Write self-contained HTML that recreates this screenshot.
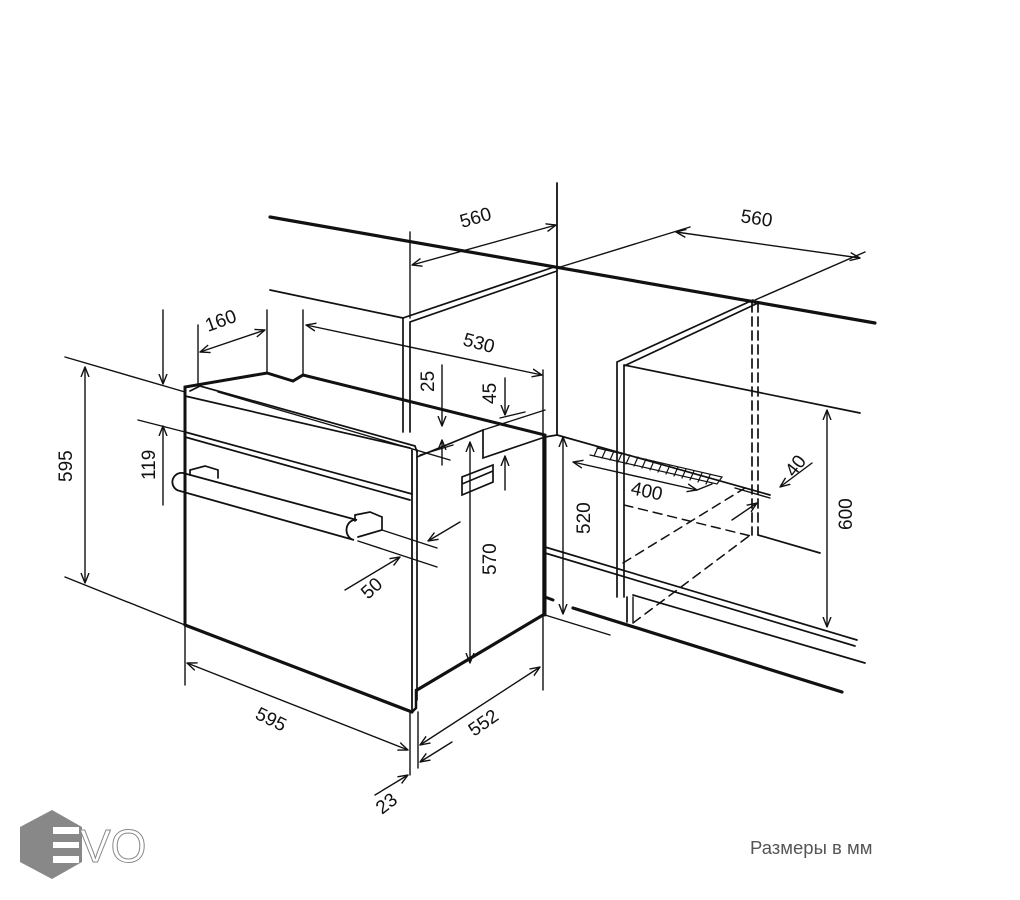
<!DOCTYPE html>
<html><head><meta charset="utf-8"><style>
html,body{margin:0;padding:0;background:#fff;}
svg{display:block;}
text{font-family:"Liberation Sans","DejaVu Sans",sans-serif;font-size:19px;fill:#111;}
</style></head><body>
<svg width="1020" height="900" viewBox="0 0 1020 900" xmlns="http://www.w3.org/2000/svg">
<defs>
<marker id="a" viewBox="0 0 10 10" refX="10" refY="5" markerWidth="10" markerHeight="10" orient="auto-start-reverse" markerUnits="userSpaceOnUse">
<path d="M0,1 L10,5 L0,9" fill="none" stroke="#111" stroke-width="1.4"/></marker>
</defs>
<g stroke="#111" fill="none" stroke-linecap="round">
<line x1="270" y1="217" x2="875" y2="323" stroke-width="3.2"/>
<line x1="557" y1="183" x2="557" y2="435" stroke-width="1.8"/>
<path d="M403,432 L403,318 L557,266" stroke-width="1.7"/>
<path d="M410,432 L410,322 L557,271" stroke-width="1.7"/>
<line x1="410" y1="232" x2="410" y2="318" stroke-width="1.4"/>
<line x1="270" y1="290" x2="403" y2="318" stroke-width="1.7"/>
<line x1="303" y1="310" x2="303" y2="375" stroke-width="1.4"/>
<line x1="412" y1="265" x2="556" y2="225" stroke-width="1.4" marker-start="url(#a)" marker-end="url(#a)"/>
<line x1="557" y1="268" x2="690" y2="227" stroke-width="1.4"/>
<line x1="755" y1="300" x2="865" y2="252" stroke-width="1.4"/>
<line x1="676" y1="232" x2="860" y2="258" stroke-width="1.4" marker-start="url(#a)" marker-end="url(#a)"/>
<path d="M617,597 L617,362 L753,300" stroke-width="1.7"/>
<path d="M624,597 L624,366 L758,303" stroke-width="1.7"/>
<line x1="624" y1="365" x2="860" y2="413" stroke-width="1.7"/>
<line x1="752" y1="303" x2="752" y2="535" stroke-width="1.7" stroke-dasharray="9,5"/>
<line x1="758" y1="303" x2="758" y2="535" stroke-width="1.7" stroke-dasharray="9,5"/>
<line x1="758" y1="535" x2="820" y2="553" stroke-width="1.7"/>
<line x1="627" y1="597" x2="627" y2="622" stroke-width="1.7"/>
<line x1="633" y1="597" x2="633" y2="622" stroke-width="1.4"/>
<line x1="827" y1="410" x2="827" y2="627" stroke-width="1.4" marker-start="url(#a)" marker-end="url(#a)"/>
<line x1="545" y1="547" x2="857" y2="640" stroke-width="1.7"/>
<line x1="545" y1="553" x2="855" y2="646" stroke-width="1.7"/>
<line x1="633" y1="595" x2="865" y2="663" stroke-width="1.7"/>
<line x1="573" y1="608" x2="842" y2="692" stroke-width="3.2"/>
<line x1="545" y1="597" x2="553" y2="600" stroke-width="3"/>
<line x1="545" y1="615" x2="610" y2="635" stroke-width="1.4"/>
<line x1="557" y1="435" x2="770" y2="495" stroke-width="1.7"/>
<line x1="545" y1="437" x2="557" y2="435" stroke-width="1.7"/>
<g stroke-width="1.2">
<path d="M598,447 L594,456 M606,449 L602,458 M614,451 L610,460 M622,453 L618,462 M630,455 L626,464 M638,457 L634,466 M646,459 L642,468 M654,461 L650,470 M662,463 L658,472 M670,465 L666,474 M678,467 L674,476 M686,469 L682,478 M694,471 L690,480 M702,473 L698,482 M710,475 L706,484"/>
<path d="M597,448 L722,477 L717,484 L590,455"/>
</g>
<line x1="563" y1="437" x2="563" y2="614" stroke-width="1.4" marker-start="url(#a)" marker-end="url(#a)"/>
<line x1="573" y1="462" x2="697" y2="490" stroke-width="1.4" marker-start="url(#a)" marker-end="url(#a)"/>
<line x1="697" y1="490" x2="712" y2="484" stroke-width="1.4"/>
<line x1="812" y1="463" x2="780" y2="487" stroke-width="1.4" marker-end="url(#a)"/>
<line x1="732" y1="520" x2="757" y2="503" stroke-width="1.4" marker-end="url(#a)"/>
<line x1="735" y1="488" x2="770" y2="498" stroke-width="1.4"/>
<g stroke-width="1.5" stroke-dasharray="9,6">
<line x1="624" y1="505" x2="755" y2="537"/>
<line x1="623" y1="563" x2="745" y2="488"/>
<line x1="633" y1="623" x2="753" y2="533"/>
</g>
<path d="M185,625 L185,387 L267,373 L293,381 L303,375 L545,435 L545,615" stroke-width="3"/>
<line x1="185" y1="625" x2="412" y2="712" stroke-width="3.2"/>
<line x1="417" y1="690" x2="543" y2="615" stroke-width="3.2"/>
<path d="M412,712 L416,708 L416,690" stroke-width="2.5"/>
<line x1="412" y1="450" x2="412" y2="712" stroke-width="1.8"/>
<line x1="417" y1="450" x2="417" y2="700" stroke-width="1.7"/>
<path d="M190,391 L200,386 L415,446 L417,452" stroke-width="1.7"/>
<line x1="185" y1="396" x2="410" y2="448" stroke-width="1.7"/>
<line x1="185" y1="432" x2="412" y2="494" stroke-width="1.7"/>
<line x1="185" y1="437" x2="410" y2="500" stroke-width="1.7"/>
<line x1="218" y1="392" x2="450" y2="460" stroke-width="1.4"/>
<path d="M417,457 L483,430 L483,458 L545,437" stroke-width="1.7"/>
<line x1="483" y1="430" x2="545" y2="410" stroke-width="1.4"/>
<line x1="420" y1="455" x2="453" y2="445" stroke-width="1.4"/>
<path d="M462,477 L462,495 L493,482 L493,465 Z M462,484 L493,471" stroke-width="1.7"/>
<path d="M183,473 L357,520 A8,9 0 0 0 354,540 L180,491 A9,9 0 0 1 183,473 Z" stroke-width="1.8"/>
<path d="M190,475 L190,470 L205,466 L218,470 L218,478" stroke-width="1.7"/>
<path d="M355,521 L355,515 L370,512 L382,517 L382,530 L358,537" stroke-width="1.7"/>
<line x1="382" y1="530" x2="437" y2="548" stroke-width="1.4"/>
<line x1="358" y1="541" x2="437" y2="567" stroke-width="1.4"/>
<line x1="460" y1="522" x2="428" y2="541" stroke-width="1.4" marker-end="url(#a)"/>
<line x1="345" y1="590" x2="400" y2="557" stroke-width="1.4" marker-end="url(#a)"/>
<line x1="65" y1="357" x2="185" y2="392" stroke-width="1.4"/>
<line x1="65" y1="577" x2="185" y2="625" stroke-width="1.4"/>
<line x1="85" y1="367" x2="85" y2="583" stroke-width="1.4" marker-start="url(#a)" marker-end="url(#a)"/>
<line x1="163" y1="310" x2="163" y2="384" stroke-width="1.4" marker-end="url(#a)"/>
<line x1="163" y1="505" x2="163" y2="426" stroke-width="1.4" marker-end="url(#a)"/>
<line x1="138" y1="420" x2="185" y2="432" stroke-width="1.4"/>
<line x1="198" y1="325" x2="198" y2="385" stroke-width="1.4"/>
<line x1="267" y1="310" x2="267" y2="373" stroke-width="1.4"/>
<line x1="200" y1="352" x2="265" y2="330" stroke-width="1.4" marker-start="url(#a)" marker-end="url(#a)"/>
<line x1="306" y1="325" x2="542" y2="375" stroke-width="1.4" marker-start="url(#a)" marker-end="url(#a)"/>
<line x1="543" y1="370" x2="543" y2="690" stroke-width="1.4"/>
<line x1="442" y1="365" x2="442" y2="426" stroke-width="1.4" marker-end="url(#a)"/>
<line x1="442" y1="465" x2="442" y2="440" stroke-width="1.4" marker-end="url(#a)"/>
<line x1="505" y1="378" x2="505" y2="415" stroke-width="1.4" marker-end="url(#a)"/>
<line x1="505" y1="490" x2="505" y2="456" stroke-width="1.4" marker-end="url(#a)"/>
<line x1="500" y1="418" x2="525" y2="412" stroke-width="1.4"/>
<line x1="470" y1="442" x2="470" y2="663" stroke-width="1.4" marker-start="url(#a)" marker-end="url(#a)"/>
<line x1="185" y1="625" x2="185" y2="685" stroke-width="1.4"/>
<line x1="410" y1="712" x2="410" y2="775" stroke-width="1.4"/>
<line x1="418" y1="712" x2="418" y2="768" stroke-width="1.4"/>
<line x1="187" y1="663" x2="408" y2="750" stroke-width="1.4" marker-start="url(#a)" marker-end="url(#a)"/>
<line x1="420" y1="745" x2="540" y2="667" stroke-width="1.4" marker-start="url(#a)" marker-end="url(#a)"/>
<line x1="452" y1="742" x2="420" y2="762" stroke-width="1.4" marker-end="url(#a)"/>
<line x1="375" y1="795" x2="408" y2="775" stroke-width="1.4" marker-end="url(#a)"/>
</g>
<text transform="translate(462,228) rotate(-16)">560</text>
<text transform="translate(740,222) rotate(9)">560</text>
<text transform="translate(208,332) rotate(-20)">160</text>
<text transform="translate(462,345) rotate(15)">530</text>
<text transform="translate(434,392) rotate(-90)">25</text>
<text transform="translate(496,404) rotate(-90)">45</text>
<text transform="translate(72,482) rotate(-90)">595</text>
<text transform="translate(155,480) rotate(-90)">119</text>
<text transform="translate(496,575) rotate(-90)">570</text>
<text transform="translate(590,534) rotate(-90)">520</text>
<text transform="translate(852,530) rotate(-90)">600</text>
<text transform="translate(630,494) rotate(12)">400</text>
<text transform="translate(794,478) rotate(-52)">40</text>
<text transform="translate(368,600) rotate(-42)">50</text>
<text transform="translate(254,718) rotate(26)">595</text>
<text transform="translate(474,737) rotate(-35)">552</text>
<text transform="translate(382,815) rotate(-38)">23</text>
<polygon points="52,810 82,827 82,862 52,879 20,862 20,827" fill="#888"/>
<g fill="#fff"><rect x="53" y="827" width="26" height="7"/><rect x="53" y="842" width="26" height="6"/><rect x="53" y="856" width="26" height="7"/></g>
<text x="80" y="862" style="font-size:46px;fill:#fff;stroke:#888;stroke-width:1">VO</text>
<text x="750" y="854" style="font-size:18.5px;fill:#555">Размеры в мм</text>
</svg>
</body></html>
